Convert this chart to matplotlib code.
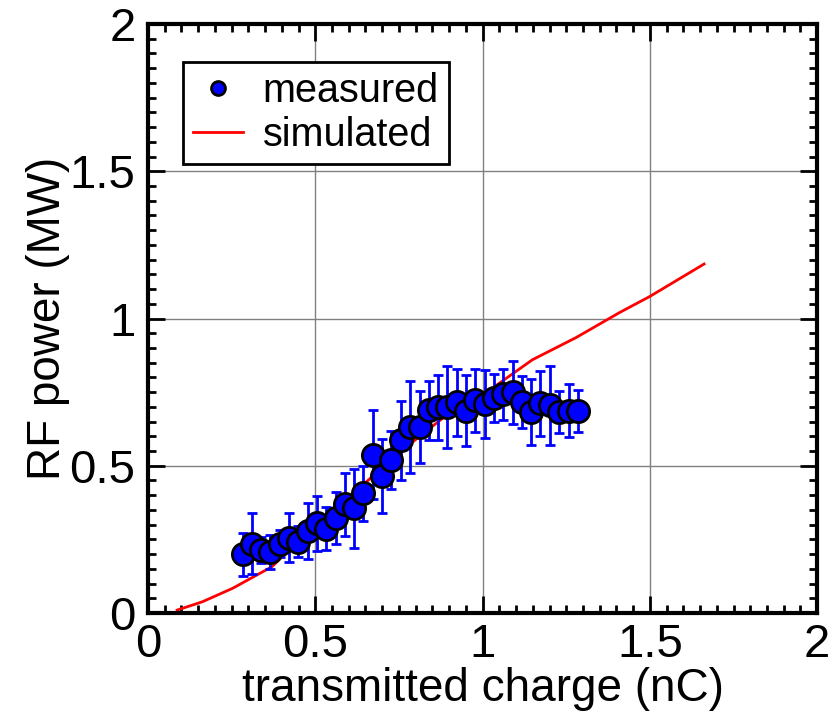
import numpy as np
import matplotlib.pyplot as plt
from matplotlib.lines import Line2D
from matplotlib.ticker import MultipleLocator

plt.rcParams["font.family"] = ["Liberation Sans", "DejaVu Sans"]

# measured points (transmitted charge in nC, RF power in MW, error in MW)
charge = [0.283, 0.312, 0.339, 0.366, 0.394, 0.422, 0.449, 0.478, 0.505, 0.532,
          0.561, 0.588, 0.617, 0.644, 0.673, 0.700, 0.727, 0.756, 0.783, 0.812,
          0.839, 0.868, 0.895, 0.923, 0.951, 0.978, 1.006, 1.034, 1.062, 1.090,
          1.118, 1.145, 1.173, 1.201, 1.229, 1.257, 1.286]
power = [0.199, 0.236, 0.214, 0.206, 0.236, 0.256, 0.242, 0.278, 0.304, 0.287,
         0.324, 0.369, 0.355, 0.406, 0.538, 0.465, 0.519, 0.587, 0.632, 0.632,
         0.689, 0.698, 0.700, 0.715, 0.687, 0.723, 0.709, 0.731, 0.743, 0.749,
         0.717, 0.683, 0.712, 0.706, 0.683, 0.686, 0.686]
err = [0.073, 0.105, 0.045, 0.058, 0.047, 0.082, 0.053, 0.096, 0.092, 0.073,
       0.088, 0.106, 0.135, 0.094, 0.152, 0.127, 0.099, 0.134, 0.155, 0.122,
       0.100, 0.111, 0.139, 0.113, 0.121, 0.107, 0.115, 0.081, 0.087, 0.108,
       0.089, 0.113, 0.111, 0.134, 0.071, 0.090, 0.071]

# simulated curve
sim_q = [0.087, 0.162, 0.253, 0.370, 0.500, 0.630, 0.760, 0.890, 1.000,
         1.149, 1.279, 1.409, 1.500, 1.662]
sim_p = [0.010, 0.038, 0.084, 0.157, 0.299, 0.423, 0.553, 0.670, 0.740,
         0.860, 0.935, 1.020, 1.075, 1.185]

fig = plt.figure(figsize=(8.33, 7.18), dpi=100)
ax = fig.add_axes([0.1777, 0.1462, 0.8033, 0.8204])

ax.plot(sim_q, sim_p, color="red", lw=2, zorder=2)
ax.errorbar(charge, power, yerr=err, fmt="none", ecolor="blue", elinewidth=2,
            capsize=3.5, capthick=2, zorder=3)
ax.plot(charge, power, "o", color="blue", mec="black", mew=2, ms=16, zorder=4)

ax.set_xlim(0, 2)
ax.set_ylim(0, 2)
ax.xaxis.set_minor_locator(MultipleLocator(0.05))
ax.yaxis.set_minor_locator(MultipleLocator(0.05))
ax.set_yticks([0, 0.5, 1, 1.5, 2], ["0", "0.5", "1", "1.5", "2"])
ax.set_xticks([0, 0.5, 1, 1.5, 2], ["0", "0.5", "1", "1.5", "2"])
ax.tick_params(which="both", direction="in", top=True, right=True,
               labelsize=34, width=2, color="black")
ax.tick_params(which="major", length=12)
ax.tick_params(axis="x", which="major", pad=7)
ax.tick_params(axis="y", which="major", pad=9)
ax.tick_params(which="minor", length=6)
ax.grid(True, which="major", color="#808080", lw=1)
for s in ax.spines.values():
    s.set_linewidth(3)

ax.set_xlabel("transmitted charge (nC)", fontsize=33, labelpad=0)
ax.set_ylabel("RF power (MW)", fontsize=33, labelpad=0)

handles = [Line2D([], [], marker="o", ls="none", color="blue", mec="black",
                  mew=2, ms=10),
           Line2D([], [], color="red", lw=2)]
leg = ax.legend(handles, ["measured", "simulated"], loc="upper left",
                bbox_to_anchor=(0.052, 0.935), borderaxespad=0, fontsize=28.5,
                fancybox=False, framealpha=1, edgecolor="black",
                handlelength=1.27, handletextpad=0.5, borderpad=0.25,
                labelspacing=0.15)
leg.get_frame().set_linewidth(2)

fig.savefig("out.png", dpi=100)
